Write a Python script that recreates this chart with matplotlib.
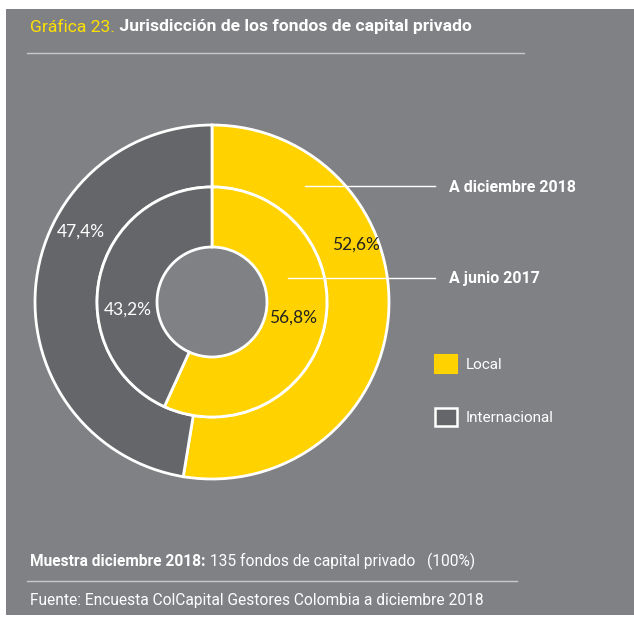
import matplotlib.pyplot as plt
from matplotlib.patches import Rectangle, Patch

# data
series_labels = ["A diciembre 2018", "A junio 2017"]
categories = ["Local", "Internacional"]
dic_2018 = [52.6, 47.4]
jun_2017 = [56.8, 43.2]
pct_text = {"dic_local": "52,6%", "dic_int": "47,4%", "jun_local": "56,8%", "jun_int": "43,2%"}

BG = "#808185"
DARK = "#656669"
YELLOW = "#FFD200"
NARROW = ["Roboto", "DejaVu Sans"]
LIGHT = ["Lato", "DejaVu Sans"]

W, H = 634, 618
fig = plt.figure(figsize=(W / 100, H / 100), dpi=100, facecolor="white")
ax = fig.add_axes([0, 0, 1, 1])


def py(y):
    # pixel row (from top) -> data y
    return H - y


ax.add_patch(Rectangle((6, py(615)), 628, 606, facecolor=BG, edgecolor="none", zorder=0))

cx, cy = 212, py(302)
colors = [YELLOW, DARK]
wedge_kw = dict(edgecolor="white", linewidth=2)
ax.pie(dic_2018, radius=177, center=(cx, cy), startangle=90, counterclock=False,
       colors=colors, wedgeprops=dict(width=62, **wedge_kw))
ax.pie(jun_2017, radius=115, center=(cx, cy), startangle=90, counterclock=False,
       colors=colors, wedgeprops=dict(width=60, **wedge_kw))

ax.set_xlim(0, W)
ax.set_ylim(0, H)
ax.set_aspect("auto")
ax.axis("off")

# percentage labels
pct_kw = dict(fontsize=12.5, family=LIGHT, ha="center", va="center")
ax.text(81, py(232), pct_text["dic_int"], color="white", **pct_kw)
ax.text(356, py(245), pct_text["dic_local"], color="#222222", **pct_kw)
ax.text(128, py(310), pct_text["jun_int"], color="white", **pct_kw)
ax.text(293, py(318), pct_text["jun_local"], color="#222222", **pct_kw)

# leader lines + series labels
ax.plot([305, 435], [py(186), py(186)], color="white", lw=1, zorder=5)
ax.plot([288, 435], [py(278), py(278)], color="white", lw=1, zorder=5)
ax.text(449, py(187), series_labels[0], color="white", fontsize=11.5, family=NARROW,
        weight="bold", va="center")
ax.text(449, py(279), series_labels[1], color="white", fontsize=11.5, family=NARROW,
        weight="bold", va="center")

# legend
handles = [Patch(facecolor=YELLOW, edgecolor=YELLOW, linewidth=1.5),
           Patch(facecolor=DARK, edgecolor="white", linewidth=1.8)]
leg = ax.legend(handles, categories, loc="upper left", bbox_to_anchor=(421 / W, 1 - 341 / H),
                frameon=False, handlelength=1.45, handleheight=1.45, handletextpad=0.55,
                labelspacing=2.3, prop={"family": NARROW, "size": 11})
for t in leg.get_texts():
    t.set_color("white")

# title
t1 = ax.text(30, py(27), "Gráfica 23.", color="#FFE100", fontsize=12.6, family=NARROW,
             va="center")
ax.annotate(" Jurisdicción de los fondos de capital privado", xy=(1, 0.5), xycoords=t1,
            va="center", color="white", fontsize=12.6, family=NARROW, weight="bold")
ax.plot([27, 524], [py(53), py(53)], color="#c8c9cb", lw=1)

# footer
f1 = ax.text(30, py(561), "Muestra diciembre 2018:", color="white", fontsize=11.2,
             family=NARROW, weight="bold", va="center")
ax.annotate(" 135 fondos de capital privado   (100%)", xy=(1, 0.5), xycoords=f1,
            va="center", color="white", fontsize=11.2, family=NARROW)
ax.plot([27, 517], [py(581), py(581)], color="#c8c9cb", lw=1)
ax.text(30, py(601), "Fuente: Encuesta ColCapital Gestores Colombia a diciembre 2018",
        color="white", fontsize=11.2, family=NARROW, va="center")

fig.savefig("out.png", dpi=100, facecolor="white")
